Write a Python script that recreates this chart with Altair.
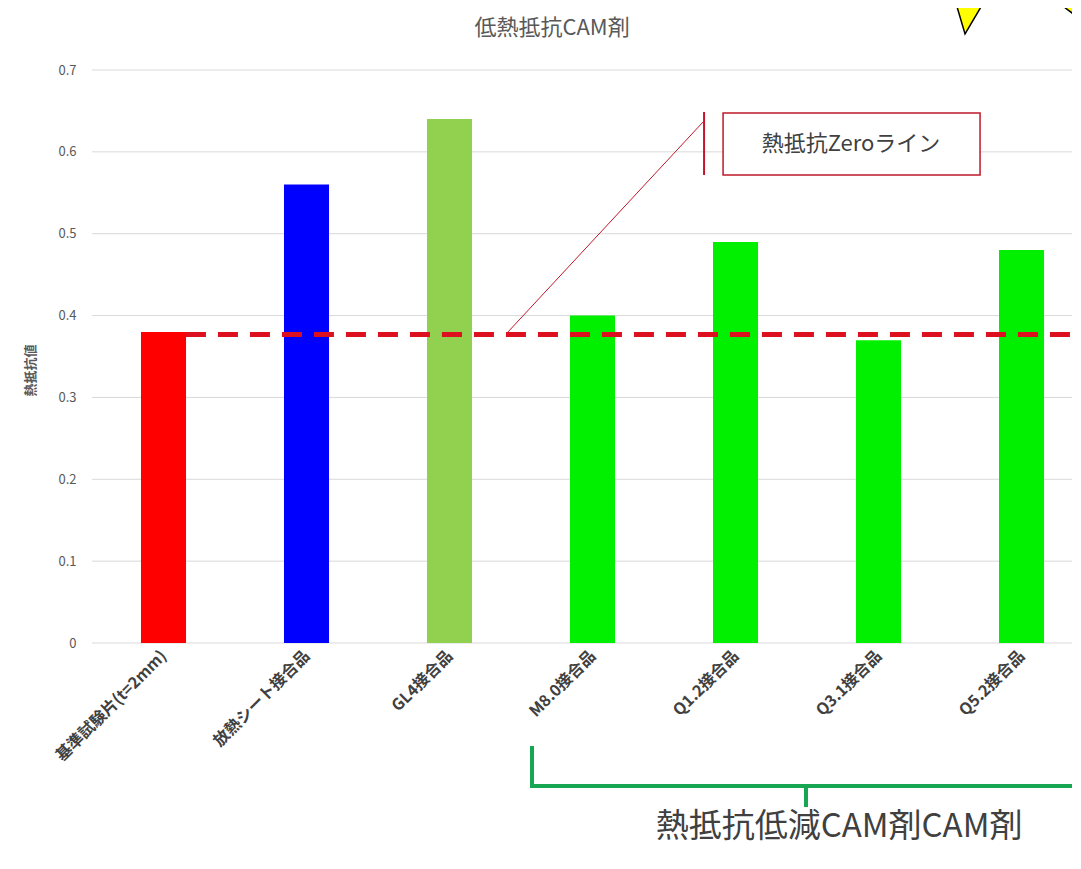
import json
import altair as alt
import pandas as pd

FONT = "Noto Sans CJK JP"

# ---- data ----
categories = ["基準試験片(t=2mm)", "放熱シート接合品", "GL4接合品", "M8.0接合品",
              "Q1.2接合品", "Q3.1接合品", "Q5.2接合品"]
values = [0.38, 0.56, 0.64, 0.40, 0.49, 0.37, 0.48]
bar_colors = ["#ff0000", "#0000ff", "#92d050", "#00f000", "#00f000", "#00f000", "#00f000"]

y_ticks = [0, 0.1, 0.2, 0.3, 0.4, 0.5, 0.6, 0.7]

chart_title = "低熱抵抗CAM剤"
chart_title_pos = [3.217, 0.7513]

# annotation geometry in data units (x: category-slot units, y: value units)
zero_line_value = 0.377
zero_line_x = [0.657, 6.86]
callout_x = [2.909, 4.273]
callout_y = [0.380, 0.6365]
callout_bar_x = 4.28
callout_bar_y = [0.6487, 0.5717]
box_x = [4.413, 6.21]
box_y = [0.6475, 0.5717]
box_text = "熱抵抗Zeroライン"
box_text_pos = [5.308, 0.6096]

bracket_x = [3.077, 3.077, 6.86]
bracket_y = [-0.1258, -0.1747, -0.1747]
bracket_tick_x = 4.993
bracket_tick_y = [-0.1747, -0.2004]
bracket_text = "熱抵抗低減CAM剤CAM剤"
bracket_text_pos = [5.224, -0.2248]

tri_shape = ["a", "a", "a", "b", "b", "b"]
tri_x = [6.035, 6.105, 6.245, 6.734, 6.853, 6.895]
tri_low = [0.7855, 0.744, 0.7855, 0.7855, 0.7696, 0.7855]
tri_high = [0.7855, 0.7855, 0.7855, 0.7855, 0.7855, 0.7855]

X_DOMAIN = [0, 6.853]
BAR_HALF = 0.1575

# ---- scales ----
xq = alt.Scale(domain=X_DOMAIN, nice=False, zero=False)
ys = alt.Scale(domain=[0, 0.7], nice=False, zero=False)

slot_centers = [i + 0.5 for i in range(len(categories))]
label_expr = json.dumps(categories, ensure_ascii=False) + "[round(datum.value - 0.5)]"

bars_df = pd.DataFrame({
    "category": categories,
    "value": values,
    "base": [0.0] * len(values),
    "x0": [c - BAR_HALF for c in slot_centers],
    "x1": [c + BAR_HALF for c in slot_centers],
})

x_axis = alt.Axis(title=None, values=slot_centers, labelExpr=label_expr, labelAngle=-45,
                  labelAlign="right", labelBaseline="middle",
                  labelFontSize=16, labelFontWeight="bold", labelColor="#404040",
                  labelFont=FONT, labelPadding=10, ticks=False, domain=False, grid=False,
                  labelOverlap=False, labelFlush=False, labelBound=False, labelLimit=300)

y_axis = alt.Axis(title="熱抵抗値", values=y_ticks, format=".1~f", grid=False, ticks=False,
                  domain=False, labelFontSize=13, labelColor="#595959", labelFont=FONT,
                  labelPadding=16, titleFontSize=13, titleColor="#595959", titleFont=FONT,
                  titleFontWeight="bold", titleX=-62, titleY=300, titleBaseline="middle")

grid = alt.Chart(pd.DataFrame({"v": y_ticks, "x0": 0.0, "x1": zero_line_x[1]})).mark_rule(
    color="#d9d9d9", strokeWidth=1
).encode(
    x=alt.X("x0:Q", scale=xq, axis=x_axis),
    x2="x1:Q",
    y=alt.Y("v:Q", scale=ys, axis=y_axis),
)

bars = alt.Chart(bars_df).mark_bar().encode(
    x=alt.X("x0:Q", scale=xq, axis=x_axis),
    x2="x1:Q",
    y=alt.Y("value:Q", scale=ys, axis=y_axis),
    y2="base:Q",
    color=alt.Color("category:N", scale=alt.Scale(domain=categories, range=bar_colors), legend=None),
)

dash = alt.Chart(pd.DataFrame({"x0": [zero_line_x[0]], "x1": [zero_line_x[1]],
                               "v": [zero_line_value]})).mark_rule(
    color="#dd1020", strokeWidth=5, strokeDash=[20, 12]
).encode(
    x=alt.X("x0:Q", scale=xq), x2="x1:Q",
    y=alt.Y("v:Q", scale=ys),
)

callout = alt.Chart(pd.DataFrame({"x0": [callout_x[0]], "x1": [callout_x[1]],
                                  "y0": [callout_y[0]], "y1": [callout_y[1]]})).mark_rule(
    color="#c0182a", strokeWidth=1
).encode(
    x=alt.X("x0:Q", scale=xq), x2="x1:Q",
    y=alt.Y("y0:Q", scale=ys), y2="y1:Q",
)

callout_bar = alt.Chart(pd.DataFrame({"x0": [callout_bar_x], "y0": [callout_bar_y[0]],
                                      "y1": [callout_bar_y[1]]})).mark_rule(
    color="#c0182a", strokeWidth=2
).encode(
    x=alt.X("x0:Q", scale=xq),
    y=alt.Y("y0:Q", scale=ys), y2="y1:Q",
)

box = alt.Chart(pd.DataFrame({"x0": [box_x[0]], "x1": [box_x[1]],
                              "y0": [box_y[0]], "y1": [box_y[1]]})).mark_rect(
    fill="white", stroke="#c0182a", strokeWidth=1.5
).encode(
    x=alt.X("x0:Q", scale=xq), x2="x1:Q",
    y=alt.Y("y0:Q", scale=ys), y2="y1:Q",
)

box_label = alt.Chart(pd.DataFrame({"t": [box_text], "x": [box_text_pos[0]],
                                    "y": [box_text_pos[1]]})).mark_text(
    fontSize=22, font=FONT, color="#404040", align="center", baseline="middle"
).encode(
    x=alt.X("x:Q", scale=xq),
    y=alt.Y("y:Q", scale=ys),
    text="t:N",
)

title_text = alt.Chart(pd.DataFrame({"t": [chart_title], "x": [chart_title_pos[0]],
                                     "y": [chart_title_pos[1]]})).mark_text(
    fontSize=22, font=FONT, color="#595959", align="center", baseline="middle"
).encode(
    x=alt.X("x:Q", scale=xq),
    y=alt.Y("y:Q", scale=ys),
    text="t:N",
)

tris = alt.Chart(pd.DataFrame({"shape": tri_shape, "x": tri_x, "lo": tri_low,
                               "hi": tri_high})).mark_area(
    fill="#ffff00", stroke="black", strokeWidth=1.5, fillOpacity=1
).encode(
    x=alt.X("x:Q", scale=xq),
    y=alt.Y("lo:Q", scale=ys), y2="hi:Q",
    detail="shape:N",
)

bracket = alt.Chart(pd.DataFrame({"x": bracket_x, "y": bracket_y,
                                  "o": list(range(len(bracket_x)))})).mark_line(
    color="#17a651", strokeWidth=4
).encode(
    x=alt.X("x:Q", scale=xq),
    y=alt.Y("y:Q", scale=ys),
    order="o:Q",
)

bracket_tick = alt.Chart(pd.DataFrame({"x": [bracket_tick_x], "y0": [bracket_tick_y[0]],
                                       "y1": [bracket_tick_y[1]]})).mark_rule(
    color="#17a651", strokeWidth=4
).encode(
    x=alt.X("x:Q", scale=xq),
    y=alt.Y("y0:Q", scale=ys), y2="y1:Q",
)

bracket_label = alt.Chart(pd.DataFrame({"t": [bracket_text], "x": [bracket_text_pos[0]],
                                        "y": [bracket_text_pos[1]]})).mark_text(
    fontSize=33, font=FONT, color="#404040", align="center", baseline="middle"
).encode(
    x=alt.X("x:Q", scale=xq),
    y=alt.Y("y:Q", scale=ys),
    text="t:N",
)

chart = alt.layer(
    grid, bars, dash, callout, callout_bar, box, box_label, title_text, tris,
    bracket, bracket_tick, bracket_label
).properties(
    width=980, height=573,
    autosize=alt.AutoSizeParams(type="none"),
    padding={"left": 84, "top": 62, "right": 0, "bottom": 208},
    background="white",
).configure_view(stroke=None)

chart.save("out.html", embed_options={"renderer": "svg", "actions": False})
